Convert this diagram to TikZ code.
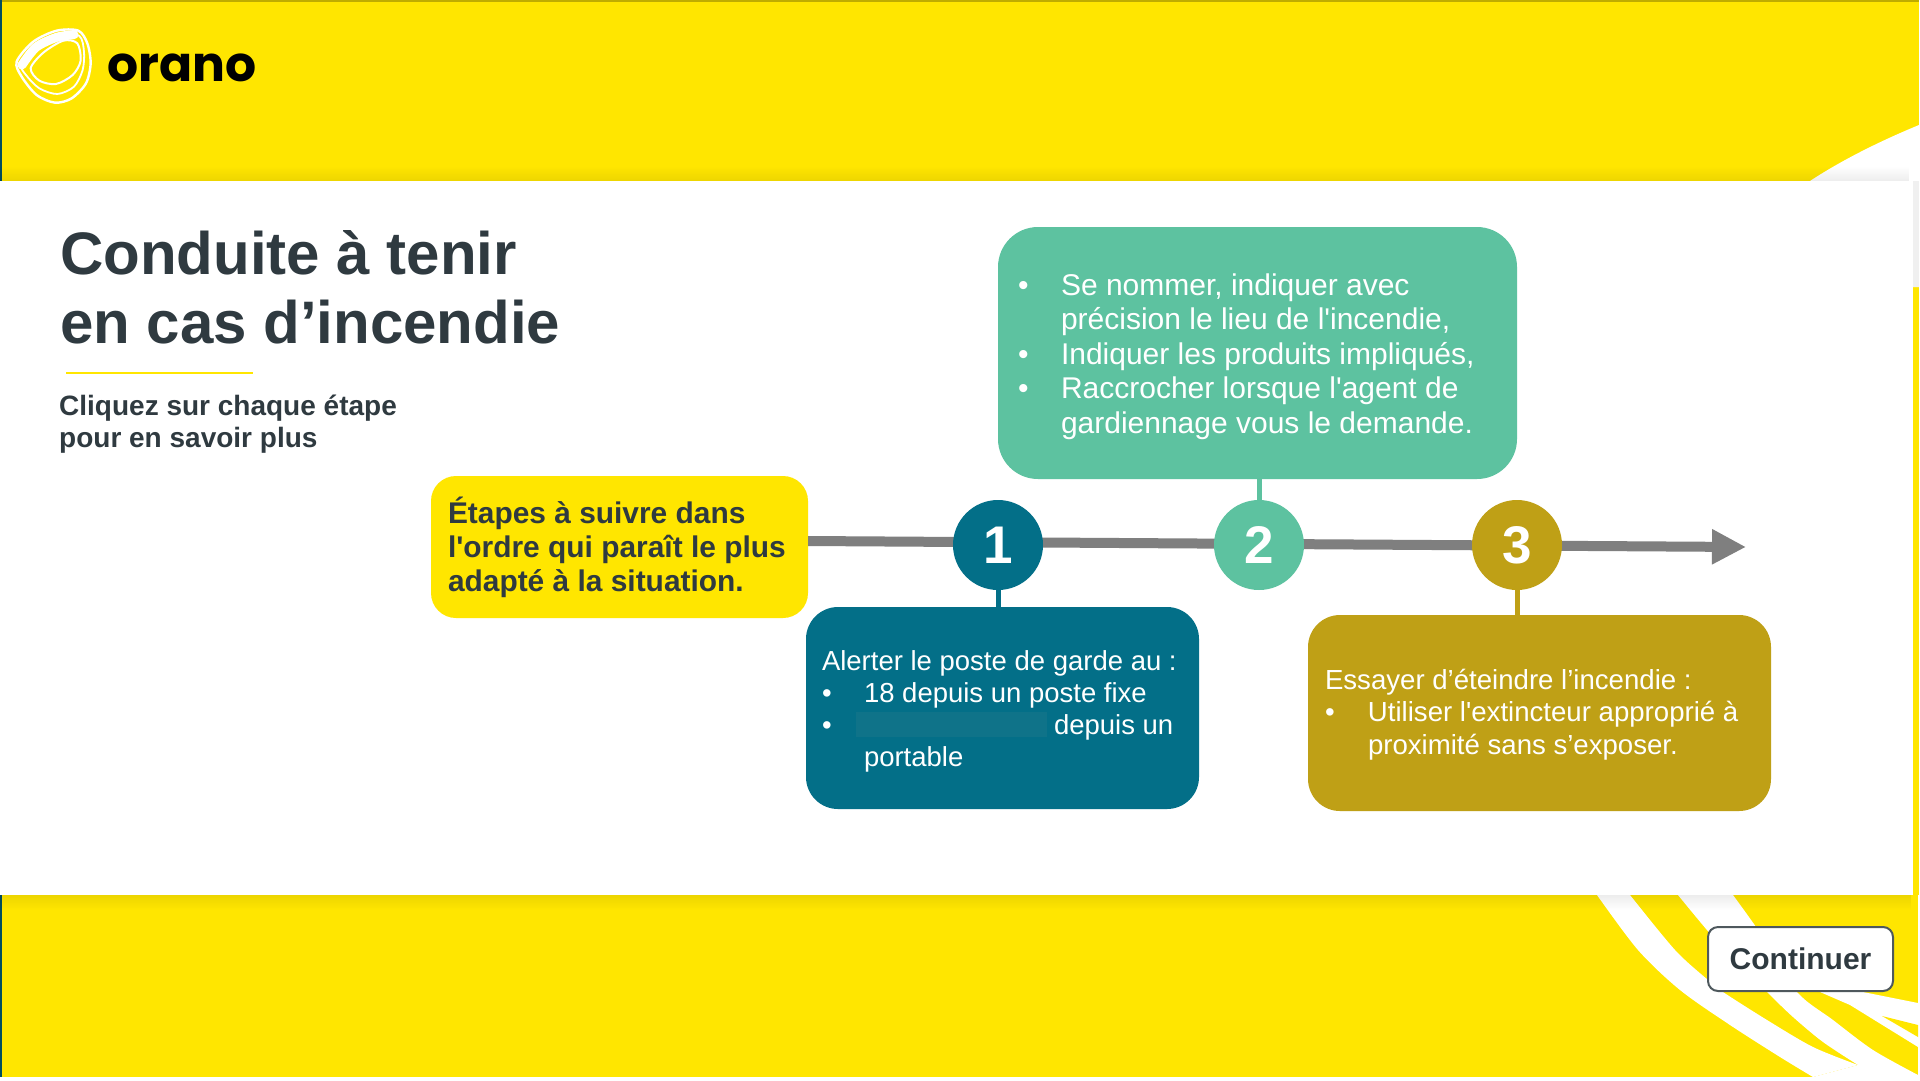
\documentclass[tikz,border=0pt]{standalone}
\usepackage{fontspec}
\setmainfont{Liberation Sans}
\newfontfamily\logofont{Poppins}
\usetikzlibrary{arrows.meta,fadings}

\definecolor{oryellow}{HTML}{FFE600}
\definecolor{orteal}{HTML}{036F88}
\definecolor{orgreen}{HTML}{5DC2A0}
\definecolor{orbrown}{HTML}{BFA016}
\definecolor{orink}{HTML}{2F3A40}
\definecolor{ormask}{HTML}{0F7389}
\definecolor{orgrey}{HTML}{7F7F7F}

\newcommand{\bul}{\makebox[43pt][l]{\textbullet}}
\newcommand{\ind}{\hspace*{43pt}}
\newcommand{\sq}{\textquotesingle}

\tikzset{
  infobox/.style={rounded corners=#1, inner ysep=0pt, align=flush left, text=white},
  stepdot/.style={circle, minimum size=90pt, inner sep=0pt, text=white,
    font=\fontsize{53}{53}\selectfont\bfseries},
  stem/.style={line width=5pt},
  title/.style={anchor=base west, inner sep=0pt, text=orink, font=\fontsize{60}{68}\selectfont\bfseries},
  sub/.style={anchor=base west, inner sep=0pt, text=orink, font=\fontsize{28}{32}\selectfont\bfseries}
}

\begin{document}
\begin{tikzpicture}[x=1pt,y=-1pt]
  \useasboundingbox (0,0) rectangle (1920,1080);

  % bands
  \fill[white] (0,0) rectangle (1920,1080);
  \fill[oryellow] (0,0) rectangle (1919,181);
  \fill[oryellow] (0,895) rectangle (1918,1077);
  \fill[oryellow] (1913,287) rectangle (1919,895);
  \fill[black!25!oryellow] (0,0) rectangle (1919,1.5);
  \fill[orteal!70!black] (0,0) rectangle (2,181);
  \fill[orteal!70!black] (0,895) rectangle (2,1077);

  % swoosh top right
  \fill[white] (1810,181) .. controls (1845,158) and (1885,139) .. (1919,125) -- (1919,287) -- (1913,287) -- (1913,181) -- cycle;
  \fill[black!6] (1913,181) rectangle (1919,287);

  % swooshes bottom right
  \fill[white] plot[smooth] coordinates {(1597,895) (1638,950) (1680,990) (1730,1025) (1780,1057) (1813,1077)}
    -- (1858,1065) -- plot[smooth] coordinates {(1858,1065) (1813,1047) (1767,1020) (1723,992) (1708,980) (1675,950) (1630,895)} -- cycle;
  \fill[white] plot[smooth] coordinates {(1678,895) (1720,945) (1767,992) (1793,1017) (1823,1042) (1858,1065)}
    -- (1813,1077) -- (1918,1077) -- plot[smooth] coordinates {(1918,1075) (1873,1050) (1833,1020) (1797,992) (1765,940) (1733,895)} -- cycle;
  \fill[white] (1800,985) -- (1820,992) -- (1850,1005) -- (1918,1047) -- (1918,1003) -- (1863,992) -- (1840,985) -- cycle;
  \fill[oryellow] (1882,1016) -- (1918,1025) -- (1918,1037) -- cycle;

  % shadows of the panel
  \fill[black, opacity=.07, path fading=north] (0,166) rectangle (1913,181);
  \fill[black, opacity=.07, path fading=south] (0,895) rectangle (1918,910);

  % panel
  \fill[white] (0,181) rectangle (1913,895);

  % logo
  \begin{scope}[shift={(0,20)},x=0.3333pt,y=-0.3333pt,white,line join=round]
    \draw[line width=2.4pt] plot[smooth cycle] coordinates {(50,125) (100,65) (170,32) (235,32) (262,70) (272,130) (258,190) (215,235) (165,248) (110,225) (65,170)};
    \draw[line width=1.8pt] plot[smooth cycle] coordinates {(62,130) (105,72) (175,42) (238,48) (252,95) (248,150) (222,200) (172,222) (118,205) (78,165)};
    \draw[line width=2pt] plot[smooth cycle] coordinates {(92,145) (130,98) (190,62) (232,70) (242,122) (218,165) (168,192) (118,182)};
    \draw[line width=9pt, line cap=round] plot[smooth] coordinates {(66,135) (108,82) (170,52) (222,44)};
  \end{scope}
  \node[anchor=base west, inner sep=0pt, text=black, font=\fontsize{48.8}{49}\selectfont\logofont\bfseries] (logo) at (107,81) {orano};

  % title
  \node[title] (title1) at (60,274) {Conduite à tenir};
  \node[title] (title2) at (60,343) {en cas d’incendie};
  \draw[oryellow, line width=2pt] (66,372.5) -- (253,372.5);
  \node[sub] (sub1) at (59,415) {Cliquez sur chaque étape};
  \node[sub] (sub2) at (59,447) {pour en savoir plus};

  % boxes
  \node[infobox=25pt, fill=oryellow, text=orink, minimum height=142pt, inner xsep=17pt, text width=343pt,
    font=\fontsize{29.9}{34}\selectfont\bfseries] (intro) at (619.5,547)
    {\rule{0pt}{27pt}Étapes à suivre dans\\l\sq ordre qui paraît le plus\\adapté à la situation.};

  \node[infobox=40pt, fill=orgreen, minimum height=252pt, inner xsep=20pt, text width=479pt,
    font=\fontsize{30}{34.6}\selectfont] (box2) at (1257.5,353)
    {\rule{0pt}{29pt}\bul Se nommer, indiquer avec\\\ind précision le lieu de l\sq incendie,\\\bul Indiquer les produits impliqués,\\\bul Raccrocher lorsque l\sq agent de\\\ind gardiennage vous le demande.};

  \node[infobox=32pt, fill=orteal, minimum height=202pt, inner xsep=16pt, text width=361pt,
    font=\fontsize{27.5}{32}\selectfont] (box1) at (1002.5,708)
    {\rule{0pt}{27pt}Alerter le poste de garde au :\\\makebox[42pt][l]{\textbullet}18 depuis un poste fixe\\\makebox[42pt][l]{\textbullet}\hspace*{190pt}depuis un\\\hspace*{42pt}portable};
  \node[fill=ormask, inner sep=0pt, minimum width=191pt, minimum height=25pt] (mask) at (951.5,724.5) {};

  \node[infobox=32pt, fill=orbrown, minimum height=196pt, inner xsep=17pt, text width=429pt,
    font=\fontsize{27.6}{32.5}\selectfont] (box3) at (1539.5,713)
    {\rule{0pt}{23.5pt}Essayer d’éteindre l’incendie :\\\bul Utiliser l\sq extincteur approprié à\\\ind proximité sans s’exposer.};

  % arrow
  \coordinate (tip) at (1746,547);
  \draw[orgrey, line width=10pt, -{Triangle[length=34pt,width=33pt]}] (intro.east |- 0,541) -- (tip);

  % steps
  \node[stepdot, fill=orteal] (dot1) at (998,545) {1};
  \node[stepdot, fill=orgreen] (dot2) at (1259,545) {2};
  \node[stepdot, fill=orbrown] (dot3) at (1517,545) {3};

  \draw[stem, orteal] (dot1.south) -- (dot1.south |- box1.north);
  \draw[stem, orgreen] (dot2.north) -- (dot2.north |- box2.south);
  \draw[stem, orbrown] (dot3.south) -- (dot3.south |- box3.north);

  % button
  \node[draw=orink!85, line width=2pt, fill=white, rounded corners=10pt, minimum width=185pt, minimum height=64pt,
    text=orink, font=\fontsize{30}{30}\selectfont\bfseries] (next) at (1800.5,959) {Continuer};
\end{tikzpicture}
\end{document}
